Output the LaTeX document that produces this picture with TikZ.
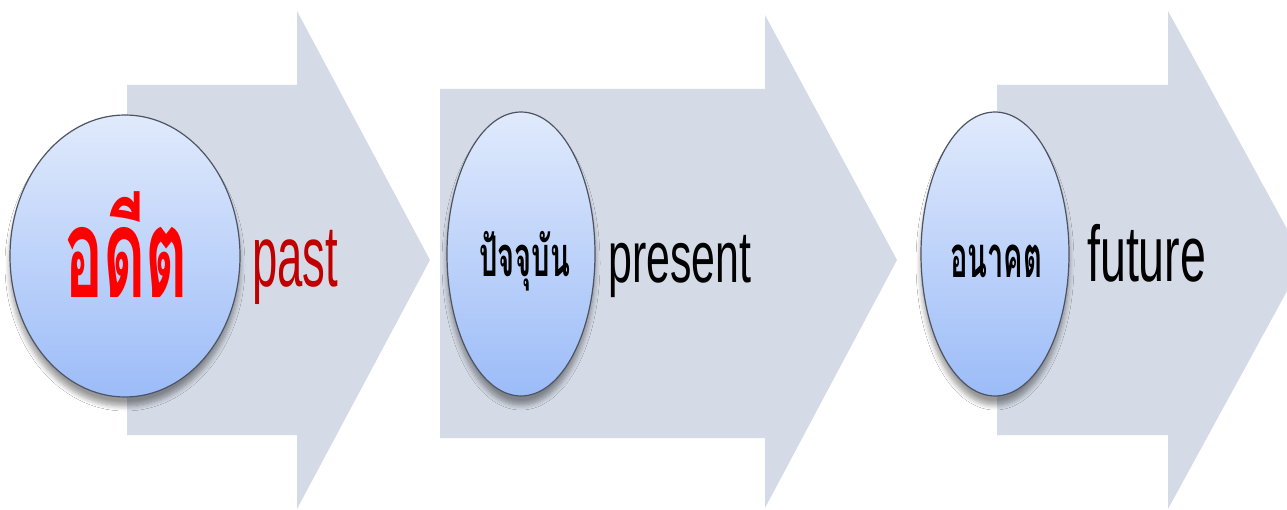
\documentclass[tikz,border=0pt]{standalone}
\usepackage{fontspec}
\usepackage{graphicx}
\setmainfont{Liberation Sans}
\newfontfamily\thaifont[Script=Thai]{Loma}
\usetikzlibrary{shapes.geometric,shadows.blur}
\definecolor{arrowfill}{HTML}{D5DBE6}
\definecolor{elltop}{HTML}{E0EAFC}
\definecolor{ellbot}{HTML}{9CBCF8}
\definecolor{ellline}{HTML}{4E5462}
\definecolor{pastred}{HTML}{C00000}
\definecolor{thaired}{HTML}{FF0000}
\begin{document}
\begin{tikzpicture}[x=1pt,y=-1pt,
  bigarrow/.style={fill=arrowfill,draw=none},
  bubble/.style={ellipse,draw=ellline,line width=1.2pt,top color=elltop,bottom color=ellbot,inner sep=0pt,
    blur shadow={shadow xshift=0pt,shadow yshift=-9pt,shadow blur radius=5pt,shadow blur steps=8,shadow opacity=40}},
  word/.style={inner sep=0pt,anchor=base west}]
\useasboundingbox (0,0) rectangle (1287,510);
\clip (0,0) rectangle (1287,510);
\fill[white] (0,0) rectangle (1287,510);
% arrows
\path[bigarrow] (127,85) -- (297,85) -- (297,11) -- (430,260) -- (297,509) -- (297,435) -- (127,435) -- cycle;
\path[bigarrow] (440,89) -- (765,89) -- (765,15) -- (897,260) -- (765,508) -- (765,438) -- (440,438) -- cycle;
\path[bigarrow] (997,85) -- (1168,85) -- (1168,11) -- (1304,260) -- (1168,509) -- (1168,435) -- (997,435) -- cycle;
% bubbles
\node[bubble,minimum width=230pt,minimum height=282pt] (e1) at (125,256) {};
\node[bubble,minimum width=148pt,minimum height=284pt] (e2) at (521,254) {};
\node[bubble,minimum width=148pt,minimum height=284pt] (e3) at (995,254) {};
% thai words
\node[word,text=thaired] (t1) at (64,298) {\resizebox{124pt}{\height}{\thaifont\bfseries\fontsize{125}{125}\selectfont อดีต}};
\node[word,text=black] (t2) at (479,277) {\resizebox{91pt}{\height}{\thaifont\bfseries\fontsize{56}{56}\selectfont ปัจจุบัน}};
\node[word,text=black] (t3) at (950,278) {\resizebox{92pt}{\height}{\thaifont\bfseries\fontsize{58}{58}\selectfont อนาคต}};
% english words
\node[word,text=pastred] (w1) at (252,287) {\resizebox{86pt}{\height}{\fontsize{87}{87}\selectfont past}};
\node[word,text=black] (w2) at (608,283) {\resizebox{143pt}{\height}{\fontsize{73}{73}\selectfont present}};
\node[word,text=black] (w3) at (1087,282) {\resizebox{119pt}{\height}{\fontsize{79}{79}\selectfont future}};
\end{tikzpicture}
\end{document}
